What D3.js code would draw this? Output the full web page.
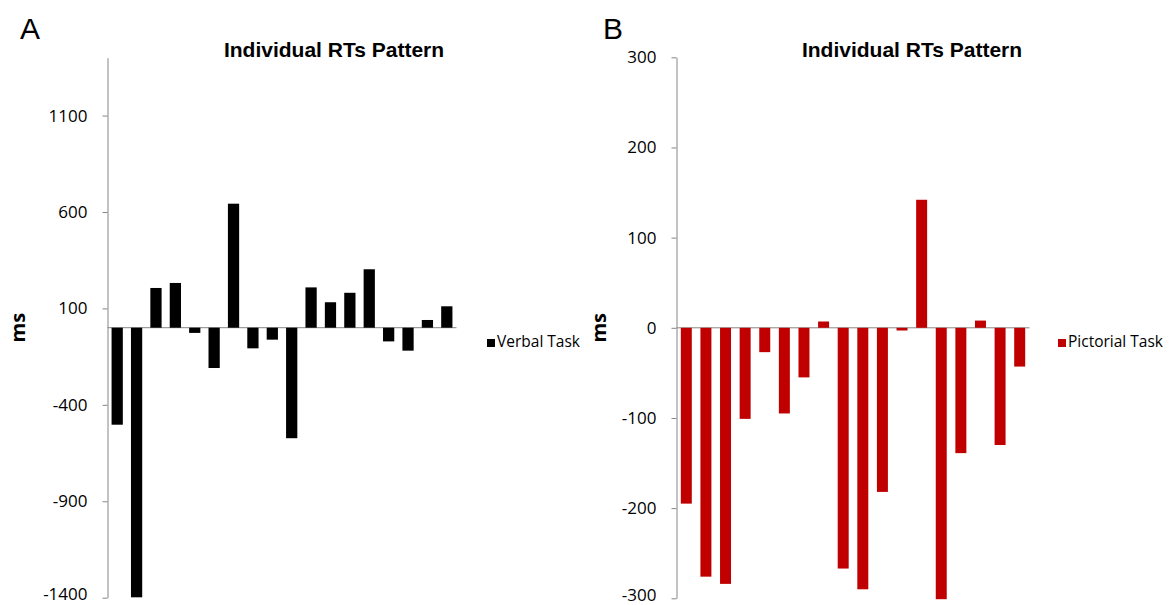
<!DOCTYPE html>
<html>
<head>
<meta charset="utf-8">
<script src="https://cdn.jsdelivr.net/npm/d3@7"></script>
<style>
  html, body { margin: 0; padding: 0; background: #fff; }
  svg { display: block; }
</style>
</head>
<body>
<svg id="chart" width="1173" height="605"></svg>
<script>
// ---- Data ----
const participants = d3.range(1, 19).map(String);
const verbalValues = [-503, -1398, 206, 232, -27, -209, 643, -107, -62, -573, 209, 132, 181, 303, -71, -119, 40, 111];
const pictorialValues = [-195, -276, -284, -101, -27, -95, -55, 7, -267, -290, -182, -3, 142, -301, -139, 8, -130, -43];
const verbalTicks = [-1400, -900, -400, 100, 600, 1100];
const pictorialTicks = [-300, -200, -100, 0, 100, 200, 300];
const verbalDomain = [-1400, 1400];
const pictorialDomain = [-300, 300];
const chartTitle = "Individual RTs Pattern";
const yLabel = "ms";

const svg = d3.select("#chart");

function panel(cfg) {
  const g = svg.append("g");
  const y = d3.scaleLinear().domain(cfg.domain).range([cfg.bottom, cfg.top]);
  const x = d3.scaleBand().domain(participants).range([cfg.left, cfg.right])
    .paddingInner(cfg.pad).paddingOuter(cfg.pad / 2);

  // zero line
  g.append("line")
    .attr("x1", cfg.left).attr("x2", cfg.right)
    .attr("y1", y(0)).attr("y2", y(0))
    .attr("stroke", "#868686").attr("stroke-width", 1);

  // bars
  g.selectAll("rect.bar").data(cfg.values).join("rect")
    .attr("class", "bar")
    .attr("x", (d, i) => x(participants[i]))
    .attr("width", x.bandwidth())
    .attr("y", d => Math.min(y(d), y(0)))
    .attr("height", d => Math.abs(y(d) - y(0)))
    .attr("fill", cfg.color);

  // y axis
  const ax = g.append("g")
    .attr("transform", `translate(${cfg.left},0)`)
    .call(d3.axisLeft(y).tickValues(cfg.ticks).tickSize(5).tickSizeOuter(0).tickPadding(15)
      .tickFormat(d => String(d)));
  ax.select(".domain").attr("stroke", "#868686");
  ax.selectAll(".tick line").attr("stroke", "#868686");
  ax.selectAll(".tick text")
    .attr("fill", "#000")
    .attr("dy", d => d === cfg.domain[0] ? "0.1em" : "0.32em")
    .style("font-family", "'Open Sans', sans-serif")
    .style("font-size", "17px");

  // title
  g.append("text")
    .attr("x", cfg.titleX).attr("y", 57)
    .attr("text-anchor", "middle")
    .style("font-family", "'Liberation Sans', Arial, sans-serif")
    .style("font-weight", "bold")
    .style("font-size", "21px")
    .text(chartTitle);

  // panel letter
  g.append("text")
    .attr("x", cfg.letterX).attr("y", 38.5)
    .style("font-family", "'Liberation Sans', Arial, sans-serif")
    .style("font-size", "30px")
    .text(cfg.letter);

  // y label
  g.append("text")
    .attr("transform", `translate(${cfg.msX},${y(0)}) rotate(-90)`)
    .attr("text-anchor", "middle")
    .style("font-family", "'Open Sans', sans-serif")
    .style("font-weight", "bold")
    .style("font-size", "20px")
    .text(yLabel);

  // legend
  g.append("rect")
    .attr("x", cfg.legX).attr("y", 339)
    .attr("width", 8).attr("height", 8)
    .attr("fill", cfg.color);
  g.append("text")
    .attr("x", cfg.legX + 10).attr("y", 347)
    .style("font-family", "'Open Sans', sans-serif")
    .style("font-size", "15.5px")
    .text(cfg.legend);
}

panel({
  values: verbalValues, ticks: verbalTicks, domain: verbalDomain,
  left: 107.5, right: 456.5, top: 57.7, bottom: 597.7, pad: 0.42,
  color: "#000000", titleX: 334, letter: "A", letterX: 20, msX: 25,
  legX: 487, legend: "Verbal Task"
});

panel({
  values: pictorialValues, ticks: pictorialTicks, domain: pictorialDomain,
  left: 676.5, right: 1029.5, top: 57.3, bottom: 598.3, pad: 0.44,
  color: "#C00000", titleX: 912, letter: "B", letterX: 603, msX: 606,
  legX: 1058, legend: "Pictorial Task"
});
</script>
</body>
</html>
